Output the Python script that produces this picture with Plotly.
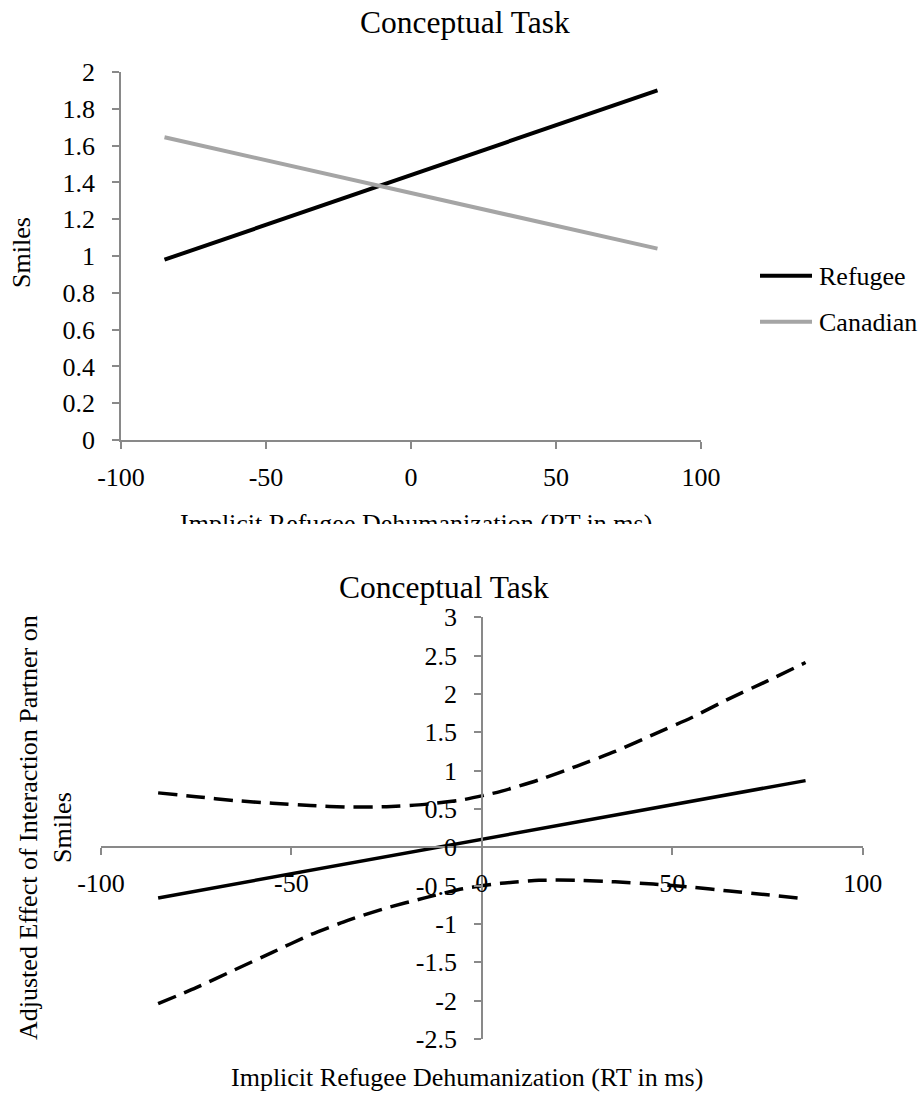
import plotly.graph_objects as go

# ---------------- data ----------------
# Top chart: simple slopes
top_x = [-85, 85]
refugee_y = [0.98, 1.90]
canadian_y = [1.645, 1.04]
series_names = ["Refugee", "Canadian"]

# Bottom chart: adjusted effect with confidence bands
effect_x = [-85, 0, 85]
effect_y = [-0.66, 0.10, 0.87]
band_x = [-85, -75, -65, -55, -45, -35, -25, -15, -5, 5, 15, 25, 35, 45, 55, 65, 75, 85]
band_upper = [0.71, 0.66, 0.61, 0.575, 0.545, 0.525, 0.53, 0.56, 0.62, 0.73, 0.88, 1.06,
              1.25, 1.47, 1.69, 1.94, 2.17, 2.41]
band_lower = [-2.04, -1.83, -1.60, -1.37, -1.14, -0.95, -0.79, -0.66, -0.54, -0.47, -0.43,
              -0.43, -0.45, -0.48, -0.52, -0.57, -0.62, -0.67]

# tick labels
x_ticks = [-100, -50, 0, 50, 100]
x_ticklabels = ["-100", "-50", "0", "50", "100"]
top_y_ticks = [0, 0.2, 0.4, 0.6, 0.8, 1, 1.2, 1.4, 1.6, 1.8, 2]
top_y_ticklabels = ["0", "0.2", "0.4", "0.6", "0.8", "1", "1.2", "1.4", "1.6", "1.8", "2"]
bot_y_ticks = [-2.5, -2, -1.5, -1, -0.5, 0, 0.5, 1, 1.5, 2, 2.5, 3]
bot_y_ticklabels = ["-2.5", "-2", "-1.5", "-1", "-0.5", "0", "0.5", "1", "1.5", "2", "2.5", "3"]

chart_title = "Conceptual Task"
x_title = "Implicit Refugee Dehumanization (RT in ms)"
top_y_title = "Smiles"
bot_y_title = "Adjusted Effect of Interaction Partner on<br>Smiles"

# ---------------- layout helpers ----------------
W, H = 921, 1094
FONT = "Liberation Serif, Times New Roman, serif"
AXIS_COLOR = "#898989"
GRAY = "#A5A5A5"


def fx(px):
    return px / W


def fy(py):
    return 1 - py / H


fig = go.Figure()

fig.add_trace(go.Scatter(x=top_x, y=refugee_y, mode="lines", name=series_names[0],
                         line=dict(color="black", width=4), xaxis="x", yaxis="y",
                         showlegend=False))
fig.add_trace(go.Scatter(x=top_x, y=canadian_y, mode="lines", name=series_names[1],
                         line=dict(color=GRAY, width=4), xaxis="x", yaxis="y",
                         showlegend=False))

fig.add_trace(go.Scatter(x=band_x, y=band_upper, mode="lines", name="Upper",
                         line=dict(color="black", width=3.5, dash="19px,9px", shape="spline",
                                   smoothing=0.6),
                         xaxis="x2", yaxis="y2", showlegend=False))
fig.add_trace(go.Scatter(x=band_x, y=band_lower, mode="lines", name="Lower",
                         line=dict(color="black", width=3.5, dash="19px,9px", shape="spline",
                                   smoothing=0.6),
                         xaxis="x2", yaxis="y2", showlegend=False))
fig.add_trace(go.Scatter(x=effect_x, y=effect_y, mode="lines", name="Effect",
                         line=dict(color="black", width=3.5),
                         xaxis="x2", yaxis="y2", showlegend=False))

axis_common = dict(showline=True, linecolor=AXIS_COLOR, linewidth=1.5, ticks="outside",
                   ticklen=7, tickwidth=1.5, tickcolor=AXIS_COLOR, showgrid=False,
                   zeroline=False, tickfont=dict(family=FONT, size=26, color="black"),
                   fixedrange=True, automargin=False)

top_xd = [fx(121), fx(701)]
top_yd = [fy(440), fy(72)]
bot_xd = [fx(101), fx(862.7)]
bot_yd = [fy(1039), fy(617.3)]

x2_pos = bot_yd[0] + (0 - (-2.5)) / 5.5 * (bot_yd[1] - bot_yd[0])
y2_pos = bot_xd[0] + (0 - (-100)) / 200 * (bot_xd[1] - bot_xd[0])

fig.update_layout(
    width=W, height=H, autosize=False,
    margin=dict(l=0, r=0, t=0, b=0, pad=0, autoexpand=False),
    paper_bgcolor="white", plot_bgcolor="white",
    showlegend=False,
    xaxis=dict(domain=top_xd, range=[-100, 100], tickvals=x_ticks, ticktext=x_ticklabels,
               anchor="y", ticklabelstandoff=6, **axis_common),
    yaxis=dict(domain=top_yd, range=[0, 2], tickvals=top_y_ticks, ticktext=top_y_ticklabels,
               anchor="x", ticklabelstandoff=12, **axis_common),
    xaxis2=dict(domain=bot_xd, range=[-100, 100], tickvals=x_ticks, ticktext=x_ticklabels,
                anchor="free", position=x2_pos, ticklabelstandoff=6, **axis_common),
    yaxis2=dict(domain=bot_yd, range=[-2.5, 3], tickvals=bot_y_ticks, ticktext=bot_y_ticklabels,
                anchor="free", position=y2_pos, ticklabelstandoff=12, **axis_common),
)

ann = []
tf = dict(family=FONT, size=31.5, color="black")
lf = dict(family=FONT, size=26, color="black")
# titles
ann.append(dict(text=chart_title, x=fx(465), y=fy(22), xref="paper", yref="paper",
                xanchor="center", yanchor="middle", showarrow=False, font=tf))
ann.append(dict(text=chart_title, x=fx(444), y=fy(587), xref="paper", yref="paper",
                xanchor="center", yanchor="middle", showarrow=False, font=tf))
# y titles
ann.append(dict(text=top_y_title, x=fx(21), y=fy(253), xref="paper", yref="paper",
                xanchor="center", yanchor="middle", textangle=-90, showarrow=False, font=lf))
ann.append(dict(text=bot_y_title, x=fx(45), y=fy(828), xref="paper", yref="paper",
                xanchor="center", yanchor="middle", textangle=-90, showarrow=False, font=lf))
# bottom x title
ann.append(dict(text=x_title, x=fx(467), y=fy(1077), xref="paper", yref="paper",
                xanchor="center", yanchor="middle", showarrow=False, font=lf))
# top x title (clipped in the reference)
ann.append(dict(text=x_title, x=fx(415.5), y=fy(523.5), xref="paper", yref="paper",
                xanchor="center", yanchor="middle", showarrow=False, font=lf))
# white cover to clip the lower half of that title
ann.append(dict(text=" ", x=fx(415.5), y=fy(524.5), xref="paper", yref="paper",
                xanchor="center", yanchor="top", showarrow=False, width=620, height=30,
                bgcolor="white", borderpad=0, borderwidth=0, font=dict(size=10)))

# legend (manual)
legend_rows = [(series_names[0], "black", 275.7), (series_names[1], GRAY, 321.7)]
shapes = []
for name, col, yy in legend_rows:
    shapes.append(dict(type="line", xref="paper", yref="paper", x0=fx(760), x1=fx(812),
                       y0=fy(yy), y1=fy(yy), line=dict(color=col, width=4)))
    ann.append(dict(text=name, x=fx(817), y=fy(yy + 1), xref="paper", yref="paper",
                    xanchor="left", yanchor="middle", showarrow=False, font=lf))

fig.update_layout(annotations=ann, shapes=shapes)

fig.write_html("out.html")
